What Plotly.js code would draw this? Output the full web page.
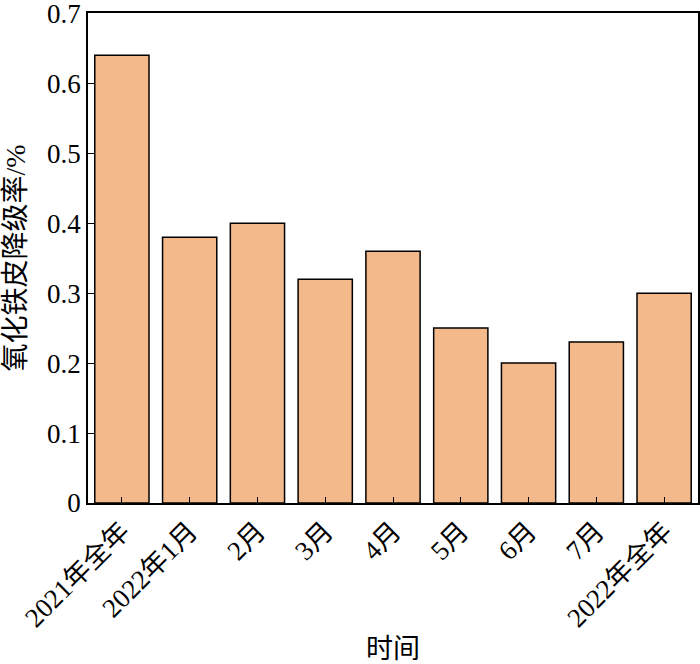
<!DOCTYPE html>
<html><head><meta charset="utf-8">
<script src="https://cdn.plot.ly/plotly-3.0.1.min.js"></script>
<style>body{margin:0;background:#fff}#c{width:700px;height:664px}</style>
</head><body><div id="c"></div>
<script>
const categories = ["2021年全年","2022年1月","2月","3月","4月","5月","6月","7月","2022年全年"];
const values = [0.64,0.38,0.40,0.32,0.36,0.25,0.20,0.23,0.30];
const yTicks = [0,0.1,0.2,0.3,0.4,0.5,0.6,0.7];
const yTickText = ["0","0.1","0.2","0.3","0.4","0.5","0.6","0.7"];
const font = "'Liberation Serif', 'Times New Roman', 'Noto Sans CJK SC', serif";
Plotly.newPlot("c",[{
  type:"bar", x:categories, y:values,
  marker:{color:"#F4B98A", line:{color:"#000", width:1.5}}
}],{
  width:700, height:664,
  margin:{l:88,r:2,t:13,b:161},
  paper_bgcolor:"#fff", plot_bgcolor:"#fff",
  bargap:0.2,
  font:{family:font, size:28, color:"#000"},
  xaxis:{type:"category", showline:true, mirror:true, linecolor:"#000", linewidth:1.5,
    ticks:"inside", ticklen:6, tickcolor:"#000", tickangle:-45, automargin:false,
    tickfont:{family:font,size:27},
    title:{text:"时间", font:{family:font,size:27}, standoff:10}},
  yaxis:{range:[0,0.7005], tickvals:yTicks, ticktext:yTickText, showline:true, mirror:true,
    linecolor:"#000", linewidth:1.5, ticks:"inside", ticklen:6, tickcolor:"#000",
    showgrid:false, zeroline:false, automargin:false, ticklabeloverflow:"allow",
    tickfont:{family:font,size:27},
    title:{text:"氧化铁皮降级率/%", font:{family:font,size:28}, standoff:14}},
  showlegend:false
},{displayModeBar:false});
</script></body></html>
